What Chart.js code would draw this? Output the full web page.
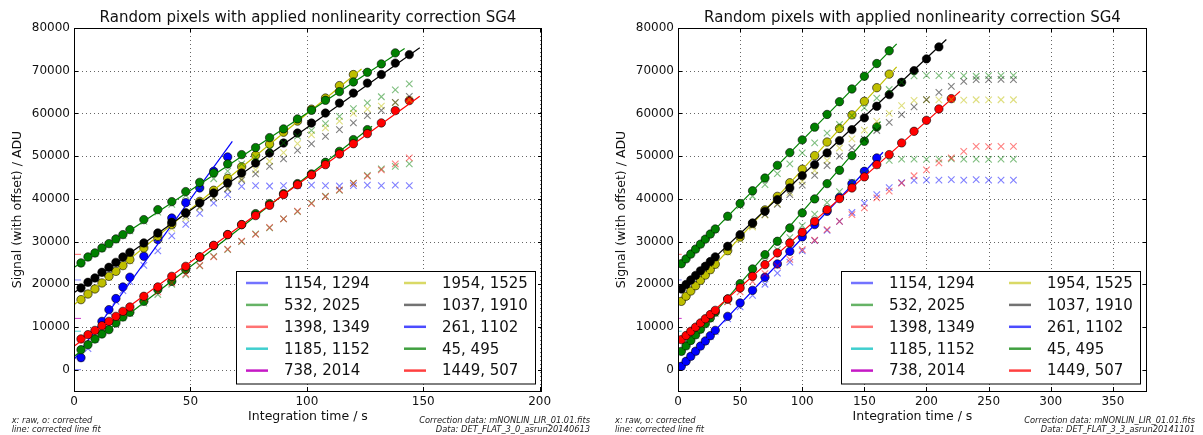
<!DOCTYPE html>
<html>
<head>
<meta charset="utf-8">
<script src="https://cdn.jsdelivr.net/npm/chart.js@4.4.1/dist/chart.umd.min.js"></script>
<style>
  html, body { margin: 0; padding: 0; background: #fff; }
  #wrap { position: relative; width: 1203px; height: 435px; overflow: hidden; background: #fff; }
  canvas { position: absolute; top: 0; }
</style>
</head>
<body>
<div id="wrap">
  <canvas id="panel0" width="601" height="435" style="left:0px"></canvas>
  <canvas id="panel1" width="602" height="435" style="left:601px"></canvas>
</div>
<script>
// ---------------- shared labels / ticks ----------------
const titleText = 'Random pixels with applied nonlinearity correction SG4';
const xAxisTitle = 'Integration time / s';
const yAxisTitle = 'Signal (with offset) / ADU';
const noteLeft = ['x: raw, o: corrected', 'line: corrected line fit'];
const correctionFile = 'Correction data: mNONLIN_LIR_01.01.fits';
const dataFileA = 'Data: DET_FLAT_3_0_asrun20140613';
const dataFileB = 'Data: DET_FLAT_3_3_asrun20141101';

const legendLabels = ['1154, 1294', '532, 2025', '1398, 1349', '1185, 1152', '738, 2014',
                      '1954, 1525', '1037, 1910', '261, 1102', '45, 495', '1449, 507'];

const yTicks = [0, 10000, 20000, 30000, 40000, 50000, 60000, 70000, 80000];
const xTicksA = [0, 50, 100, 150, 200];
const xTicksB = [0, 50, 100, 150, 200, 250, 300, 350];

// short fit stubs of pixels without usable ramps (level in ADU)
const stubTimes = [0, 3];
const stubRed = 27000;
const stubBlue = 21000;
const stubMagenta = 12000;
const stubCyan = 9000;
const stubBlueLow = 0;

// ---------------- panel A : DET_FLAT_3_0 ----------------
const timesA = [3, 6, 9, 12, 15, 18, 21, 24, 30, 36, 42, 48, 54, 60, 66, 72, 78, 84, 90, 96, 102, 108, 114, 120, 126, 132, 138, 144];

const rawA_1154 = [2700, 4900, 7100, 10900, 13500, 16000, 18500, 20600, 24400, 27800, 31300, 34000, 36600, 39000, 41000, 42900, 43100, 43000, 43100, 43100, 43200, 43100, 43000, 43100, 43200, 43100, 43200, 43100];
const corA_1154 = [2800, null, null, 11300, 14050, 16650, 19350, 21650, 26550, 30450, 35500, 39100, 42550, 46450, 49800, null, null, null, null, null, null, null, null, null, null, null, null, null];
const fitTA_1154 = [0, 68];
const fitYA_1154 = [2340, 53470];

const rawA_532 = [4600, 5800, 7100, 8300, 9300, 10800, 12100, 13200, 15600, 17600, 20000, 22200, 24300, 26500, 28100, 30000, 31800, 33200, 35300, 37000, 39000, 40600, 42000, 43700, 45500, 47000, 47600, 48200];
const corA_532 = [4680, 5850, 7190, 8360, 9370, 10930, 12340, 13420, 16000, 18740, 20680, 23420, 26390, 29040, 31620, 33960, 36530, 38880, 41220, 43560, 45830, 48550, 51120, 53860, 56200, null, null, null];
const fitTA_532 = [0, 128];
const fitYA_532 = [3100, 56980];

const rawA_1398 = [7100, 8100, 9100, 10150, 11150, 12250, 13350, 14350, 16500, 18200, 20300, 22400, 24400, 26400, 28200, 30100, 31700, 33300, 35300, 37100, 38900, 40500, 42100, 43600, 45300, 46800, 48200, 49600];
const corA_1398 = [7190, 8200, 9200, 10300, 11310, 12480, 13650, 14680, 17170, 19370, 21850, 24190, 26390, 29110, 31620, 33960, 36070, 38480, 41000, 43300, 45600, 48000, 50500, 52900, 55270, 57770, 60660, 63000];
const fitTA_1398 = [0, 148.5];
const fitYA_1398 = [5460, 64000];

const rawA_1954 = [16350, 17700, 19000, 20300, 21600, 22900, 24200, 25500, 28100, 30600, 33100, 35500, 37900, 40200, 42500, 44700, 46800, 48800, 50800, 52900, 55000, 56600, 58200, 60000, 61000, 61700, 62500, 63200];
const corA_1954 = [16390, 17720, 18900, 20300, 21850, 23020, 24360, 25760, 28500, 31220, 33960, 36700, 39400, 42000, 44800, 47500, 50200, 52800, 55600, 58200, 61000, 63600, 66510, 69100, null, null, null, null];
const fitTA_1954 = [0, 123.5];
const fitYA_1954 = [15200, 70400];

const rawA_1037 = [19100, 20250, 21400, 22550, 23700, 24850, 26000, 27150, 29400, 31650, 33850, 36000, 38100, 40200, 42300, 44400, 45830, 47610, 49340, 51360, 52850, 54640, 56200, 57770, 59480, 60730, 62600, 64000];
const corA_1037 = [19130, 20450, 21470, 22790, 23960, 25130, 26390, 27470, 29670, 32010, 34500, 36700, 39040, 41360, 43700, 46040, 48380, 50720, 53060, 55400, 57740, 60080, 62420, 64760, 67100, 69100, 71780, 73770];
const fitTA_1037 = [0, 148.5];
const fitYA_1037 = [18000, 75400];

const rawA_45 = [24900, 26300, 27200, 28350, 29300, 30400, 31400, 32500, 34700, 36900, 38700, 40800, 42800, 44700, 46500, 48200, 49700, 51500, 53100, 54700, 56050, 57600, 59300, 61100, 62460, 63900, 65500, 66900];
const corA_45 = [24990, 26390, 27330, 28500, 29510, 30610, 31620, 32790, 35130, 37470, 39340, 41690, 43860, 46060, 48170, 50350, 52000, 54330, 56370, 58710, 60730, 63070, 65100, 67370, 69630, 71590, 74170, null];
const fitTA_45 = [0, 142];
const fitYA_45 = [23900, 75200];

// ---------------- panel B : DET_FLAT_3_3 ----------------
const timesB = [2.7, 6.5, 10.3, 14.2, 18.1, 22, 26, 30, 40, 50, 60, 70, 80, 90, 100, 110, 120, 130, 140, 150, 160, 170, 180, 190, 200, 210, 220, 230, 240, 250, 260, 270];

const rawB_1154 = [780, 1930, 3080, 4250, 5420, 6580, 7760, 8950, 11900, 14700, 17400, 20000, 22600, 25200, 27800, 30200, 32600, 34700, 36800, 39000, 41000, 42600, 43800, 44300, 44400, 44400, 44500, 44400, 44500, 44400, 44400, 44400];
const corB_1154 = [780, 1950, 3120, 4320, 5520, 6720, 7950, 9200, 12480, 15620, 18570, 21620, 24750, 27700, 31080, 33960, 37070, 40350, 43560, 46440, 49570, null, null, null, null, null, null, null, null, null, null, null];
const fitTB_1154 = [0, 165];
const fitYB_1154 = [-60, 50900];

const rawB_532 = [4250, 5500, 6750, 8030, 9300, 10580, 11870, 13150, 16000, 19300, 22300, 25300, 28100, 30900, 33700, 36400, 39100, 41700, 43900, 46000, 47800, 49000, 49300, 49300, 49250, 49300, 49350, 49300, 49300, 49250, 49300, 49300];
const corB_532 = [4290, 5570, 6840, 8150, 9460, 10770, 12110, 13460, 16550, 20140, 23580, 26930, 30050, 33180, 36700, 39980, 43560, 46680, 50120, 53470, 56840, null, null, null, null, null, null, null, null, null, null, null];
const fitTB_532 = [0, 163];
const fitYB_532 = [3380, 58100];

const rawB_1398 = [6950, 7900, 8850, 9800, 10750, 11700, 12650, 13600, 15900, 18200, 20600, 22500, 24300, 25800, 28100, 30300, 32800, 34700, 36300, 37900, 40200, 41800, 43700, 45400, 46800, 48400, 49600, 51100, 52300, 52200, 52300, 52300];
const corB_1398 = [7030, 8000, 8980, 9960, 10940, 11920, 12900, 13890, 16550, 19130, 21850, 24590, 27330, 29670, 32160, 34730, 37470, 40050, 42550, 45130, 48010, 50350, 53090, 55810, 58380, 61050, 63460, null, null, null, null, null];
const fitTB_1398 = [0, 227];
const fitYB_1398 = [6330, 65170];

const rawB_1954 = [16000, 17150, 18350, 19550, 20750, 21950, 23200, 24400, 27500, 30500, 33400, 36200, 38900, 41500, 44100, 46600, 49000, 51900, 54030, 56100, 58150, 60000, 61830, 63070, 63200, 63150, 63250, 63100, 63200, 63150, 63200, 63200];
const corB_1954 = [16000, 17200, 18420, 19660, 20900, 22140, 23410, 24680, 27860, 31040, 34220, 37400, 40580, 43760, 46940, 50120, 53300, 56480, 59660, 62840, 66020, 69200, null, null, null, null, null, null, null, null, null, null];
const fitTB_1954 = [0, 176];
const fitYB_1954 = [15150, 70900];

const rawB_1037 = [18900, 19900, 20950, 22000, 23050, 24100, 25150, 26250, 28600, 31200, 33800, 36300, 38700, 41000, 43200, 45500, 47800, 50000, 52000, 54000, 56000, 57900, 59720, 61520, 63230, 64940, 66350, 67520, 67920, 67900, 67950, 67900];
const corB_1037 = [18900, 19950, 21000, 22070, 23140, 24210, 25310, 26410, 28880, 31620, 34350, 37070, 39800, 42550, 45430, 48010, 50750, 53630, 56200, 58950, 61660, 64400, 67280, 70020, 72760, 75570, null, null, null, null, null, null];
const fitTB_1037 = [0, 216];
const fitYB_1037 = [18150, 77300];

const rawB_45 = [24800, 25900, 27000, 28150, 29300, 30450, 31600, 32750, 35600, 38400, 40600, 43300, 45900, 48200, 50750, 53100, 55400, 57400, 59500, 61300, 63600, 65600, 67300, 68800, 68900, 68850, 68900, 68850, 68700, 68850, 68850, 68900];
const corB_45 = [24800, 25940, 27070, 28230, 29390, 30560, 31750, 32940, 35920, 38900, 41880, 44860, 47840, 50820, 53800, 56780, 59760, 62740, 65720, 68700, 71680, 74660, null, null, null, null, null, null, null, null, null, null];
const fitTB_45 = [0, 176];
const fitYB_45 = [24000, 76300];

// ---------------- styling ----------------
const FONT = '"DejaVu Sans", "Liberation Sans", sans-serif';
const RGB = {
  blue: [0, 0, 255], green: [0, 128, 0], red: [255, 0, 0], yellow: [191, 191, 0],
  black: [0, 0, 0], cyan: [0, 191, 191], magenta: [191, 0, 191]
};
const rgba = (c, a) => `rgba(${c[0]},${c[1]},${c[2]},${a})`;

const legendColors = [
  rgba(RGB.blue, 0.55), rgba(RGB.green, 0.6), rgba(RGB.red, 0.55), rgba(RGB.cyan, 0.75), rgba(RGB.magenta, 0.9),
  rgba(RGB.yellow, 0.6), rgba(RGB.black, 0.55), rgba(RGB.blue, 0.7), rgba(RGB.green, 0.75), rgba(RGB.red, 0.75)
];

function points(xs, ys) {
  const out = [];
  xs.forEach((x, i) => { if (ys[i] !== null && ys[i] !== undefined) out.push({ x: x, y: ys[i] }); });
  return out;
}

let drawOrder = 0;
function nextOrder() { drawOrder -= 1; return drawOrder; }

function pixelDatasets(times, raw, cor, fitT, fitY, col) {
  return [
    { data: points(times, raw), showLine: false, pointStyle: 'crossRot', pointRadius: 4.6,
      borderColor: rgba(col, 0.5), backgroundColor: rgba(col, 0.5), pointBorderWidth: 1.1, order: nextOrder() },
    { data: points(times, cor), showLine: false, pointStyle: 'circle', pointRadius: 4.2,
      backgroundColor: rgba(col, 1), borderColor: '#000', pointBorderWidth: 0.6, order: nextOrder() },
    { data: points(fitT, fitY), showLine: true, pointRadius: 0, borderColor: rgba(col, 1),
      borderWidth: 1.2, order: nextOrder() }
  ];
}

function stubDataset(level, col, alpha) {
  return { data: points(stubTimes, [level, level]), showLine: true, pointRadius: 0,
           borderColor: rgba(col, alpha), borderWidth: 1, order: nextOrder() };
}

function buildDatasets(p) {
  drawOrder = 0;
  return [
    stubDataset(stubBlueLow, RGB.blue, 0.5),
    stubDataset(stubBlue, RGB.blue, 0.5),
    stubDataset(stubRed, RGB.red, 0.6),
    stubDataset(stubCyan, RGB.cyan, 0.7),
    stubDataset(stubMagenta, RGB.magenta, 0.8),
    ...pixelDatasets(p.times, p.raw1154, p.cor1154, p.fitT1154, p.fitY1154, RGB.blue),
    ...pixelDatasets(p.times, p.raw532, p.cor532, p.fitT532, p.fitY532, RGB.green),
    ...pixelDatasets(p.times, p.raw1398, p.cor1398, p.fitT1398, p.fitY1398, RGB.red),
    ...pixelDatasets(p.times, p.raw1954, p.cor1954, p.fitT1954, p.fitY1954, RGB.yellow),
    ...pixelDatasets(p.times, p.raw1037, p.cor1037, p.fitT1037, p.fitY1037, RGB.black),
    ...pixelDatasets(p.times, p.raw45, p.cor45, p.fitT45, p.fitY45, RGB.green)
  ];
}

// grid, frame, inward ticks, titles, legend and footnotes
const decorPlugin = {
  id: 'decor',
  beforeDatasetsDraw(chart) {
    const { ctx, chartArea: a, scales: { x, y } } = chart;
    const o = chart.options.plugins.decor;
    ctx.save();
    ctx.strokeStyle = 'rgba(0,0,0,0.6)';
    ctx.lineWidth = 1;
    ctx.setLineDash([1, 3]);
    o.xTicks.forEach(v => {
      const px = Math.round(x.getPixelForValue(v)) + 0.5;
      ctx.beginPath(); ctx.moveTo(px, a.top); ctx.lineTo(px, a.bottom); ctx.stroke();
    });
    yTicks.forEach(v => {
      const py = Math.round(y.getPixelForValue(v)) + 0.5;
      ctx.beginPath(); ctx.moveTo(a.left, py); ctx.lineTo(a.right, py); ctx.stroke();
    });
    ctx.restore();
  },
  afterDraw(chart) {
    const { ctx, chartArea: a, scales: { x, y } } = chart;
    const o = chart.options.plugins.decor;
    ctx.save();
    ctx.setLineDash([]);
    // inward tick marks on all four sides
    ctx.strokeStyle = '#000';
    ctx.lineWidth = 1;
    o.xTicks.forEach(v => {
      const px = Math.round(x.getPixelForValue(v)) + 0.5;
      ctx.beginPath(); ctx.moveTo(px, a.bottom); ctx.lineTo(px, a.bottom - 4); ctx.stroke();
      ctx.beginPath(); ctx.moveTo(px, a.top); ctx.lineTo(px, a.top + 4); ctx.stroke();
    });
    yTicks.forEach(v => {
      const py = Math.round(y.getPixelForValue(v)) + 0.5;
      ctx.beginPath(); ctx.moveTo(a.left, py); ctx.lineTo(a.left + 4, py); ctx.stroke();
      ctx.beginPath(); ctx.moveTo(a.right, py); ctx.lineTo(a.right - 4, py); ctx.stroke();
    });
    // legend box
    const bw = 299, bh = 112.5;
    const bx = a.right - 7 - bw, by = a.bottom - 8 - bh;
    ctx.fillStyle = '#fff';
    ctx.fillRect(bx, by, bw, bh);
    ctx.strokeStyle = '#000';
    ctx.lineWidth = 1;
    ctx.strokeRect(Math.round(bx) + 0.5, Math.round(by) + 0.5, bw, bh);
    ctx.font = '15px ' + FONT;
    ctx.textBaseline = 'middle';
    ctx.textAlign = 'left';
    legendLabels.forEach((lab, i) => {
      const col = Math.floor(i / 5), row = i % 5;
      const cy = by + 12.5 + row * 21.9;
      const hx = bx + 10 + col * 158;
      ctx.strokeStyle = legendColors[i];
      ctx.lineWidth = 2.5;
      ctx.beginPath(); ctx.moveTo(hx, cy); ctx.lineTo(hx + 22, cy); ctx.stroke();
      ctx.fillStyle = '#111';
      ctx.fillText(lab, hx + 38, cy + 1);
    });
    // frame
    ctx.strokeStyle = '#000';
    ctx.lineWidth = 1;
    ctx.strokeRect(a.left + 0.5, a.top + 0.5, a.right - a.left - 1, a.bottom - a.top);
    // title and axis titles
    ctx.fillStyle = '#111';
    ctx.textAlign = 'center';
    ctx.textBaseline = 'alphabetic';
    ctx.font = '15px ' + FONT;
    const cx = (a.left + a.right) / 2;
    ctx.fillText(titleText, cx, 21.5);
    ctx.font = '12.5px ' + FONT;
    ctx.fillText(xAxisTitle, cx, 420);
    ctx.save();
    ctx.translate(o.yTitleX, (a.top + a.bottom) / 2);
    ctx.rotate(-Math.PI / 2);
    ctx.textBaseline = 'middle';
    ctx.fillText(yAxisTitle, 0, 0);
    ctx.restore();
    // footnotes
    ctx.font = 'italic 8.3px ' + FONT;
    ctx.fillStyle = '#222';
    ctx.textAlign = 'left';
    ctx.fillText(noteLeft[0], o.noteX, 423);
    ctx.fillText(noteLeft[1], o.noteX, 432);
    ctx.textAlign = 'right';
    ctx.fillText(correctionFile, o.noteRight, 423);
    ctx.fillText(o.dataFile, o.noteRight, 432);
    ctx.restore();
  }
};

function makeChart(canvasId, p) {
  return new Chart(document.getElementById(canvasId), {
    type: 'scatter',
    data: { datasets: buildDatasets(p) },
    plugins: [decorPlugin],
    options: {
      responsive: false,
      animation: false,
      devicePixelRatio: 1,
      layout: { padding: { top: 28, right: p.padRight, left: 0, bottom: 0 } },
      plugins: {
        legend: { display: false },
        tooltip: { enabled: false },
        title: { display: false },
        decor: { xTicks: p.xTicks, yTitleX: p.yTitleX, noteX: p.noteX, noteRight: p.noteRight, dataFile: p.dataFile }
      },
      scales: {
        x: {
          type: 'linear', min: 0, max: p.xMax,
          afterBuildTicks: s => { s.ticks = p.xTicks.map(v => ({ value: v })); },
          afterFit: s => { s.height = 44; },
          grid: { display: false, drawTicks: false },
          border: { display: false },
          ticks: { color: '#111', font: { family: FONT, size: 12 }, padding: 4, maxRotation: 0, autoSkip: false,
                   callback: v => String(v) }
        },
        y: {
          type: 'linear', min: -5000, max: 80000,
          afterBuildTicks: s => { s.ticks = yTicks.map(v => ({ value: v })); },
          afterFit: s => { s.width = p.yWidth; },
          grid: { display: false, drawTicks: false },
          border: { display: false },
          ticks: { color: '#111', font: { family: FONT, size: 12 }, padding: 4, autoSkip: false,
                   callback: v => String(v) }
        }
      }
    }
  });
}

makeChart('panel0', {
  times: timesA, xMax: 201, xTicks: xTicksA, padRight: 59, yWidth: 74,
  yTitleX: 18, noteX: 11.7, noteRight: 590, dataFile: dataFileA,
  raw1154: rawA_1154, cor1154: corA_1154, fitT1154: fitTA_1154, fitY1154: fitYA_1154,
  raw532: rawA_532, cor532: corA_532, fitT532: fitTA_532, fitY532: fitYA_532,
  raw1398: rawA_1398, cor1398: corA_1398, fitT1398: fitTA_1398, fitY1398: fitYA_1398,
  raw1954: rawA_1954, cor1954: corA_1954, fitT1954: fitTA_1954, fitY1954: fitYA_1954,
  raw1037: rawA_1037, cor1037: corA_1037, fitT1037: fitTA_1037, fitY1037: fitYA_1037,
  raw45: rawA_45, cor45: corA_45, fitT45: fitTA_45, fitY45: fitYA_45
});

makeChart('panel1', {
  times: timesB, xMax: 377.5, xTicks: xTicksB, padRight: 56, yWidth: 77,
  yTitleX: 21, noteX: 14, noteRight: 594, dataFile: dataFileB,
  raw1154: rawB_1154, cor1154: corB_1154, fitT1154: fitTB_1154, fitY1154: fitYB_1154,
  raw532: rawB_532, cor532: corB_532, fitT532: fitTB_532, fitY532: fitYB_532,
  raw1398: rawB_1398, cor1398: corB_1398, fitT1398: fitTB_1398, fitY1398: fitYB_1398,
  raw1954: rawB_1954, cor1954: corB_1954, fitT1954: fitTB_1954, fitY1954: fitYB_1954,
  raw1037: rawB_1037, cor1037: corB_1037, fitT1037: fitTB_1037, fitY1037: fitYB_1037,
  raw45: rawB_45, cor45: corB_45, fitT45: fitTB_45, fitY45: fitYB_45
});
</script>
</body>
</html>
